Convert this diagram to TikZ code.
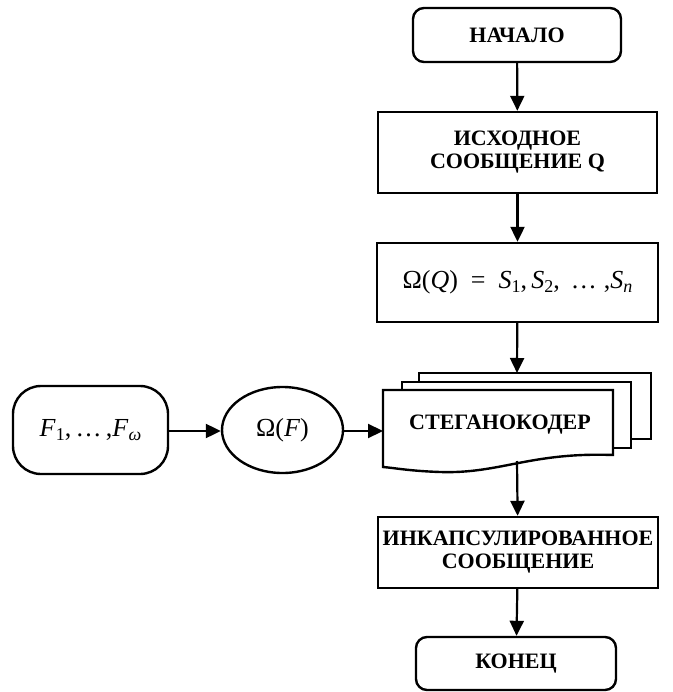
\documentclass[tikz,border=0pt]{standalone}
\usepackage{fontspec}
\setmainfont{Liberation Serif}
\usetikzlibrary{arrows.meta,shapes.geometric}

% subscript for formulas typeset in the text font
\newcommand{\lowidx}[1]{\raisebox{-0.35ex}{\fontsize{18}{18}\selectfont #1}}

\tikzset{
  lbl/.style={font=\fontsize{22}{23}\selectfont\bfseries, align=center},
  mth/.style={font=\fontsize{26}{28}\selectfont},
  procbox/.style={draw, line width=2.4pt, rectangle, inner sep=0pt},
  termbox/.style={draw, line width=2.4pt, rectangle, rounded corners=11pt, inner sep=0pt},
  sheet/.style={draw, line width=2.4pt, fill=white},
  flow/.style={line width=2.2pt, -{Triangle[length=15pt,width=14pt]}}
}

\begin{document}
\begin{tikzpicture}[x=1pt,y=-1pt]
  \useasboundingbox (0,0) rectangle (672,692);

  % main column
  \node[termbox, lbl, minimum width=208pt, minimum height=54pt] (start) at (517,35) {НАЧАЛО};
  \node[procbox, lbl, minimum width=279pt, minimum height=81pt] (src) at (517.5,152.5) {ИСХОДНОЕ\\СООБЩЕНИЕ Q};
  \node[procbox, mth, minimum width=281pt, minimum height=79pt] (omq) at (517.5,282.5)
    {Ω(\textit{Q})\enspace=\enspace\textit{S}\lowidx{1},\,\textit{S}\lowidx{2},\, …\;,\textit{S}\lowidx{\textit{n}}};

  % stacked documents of the steganocoder
  \draw[sheet] (419,373) rectangle (651,439);
  \draw[sheet] (402,382) rectangle (631,448);
  \draw[sheet] (383,390) -- (613,390) -- (613,455)
     .. controls (530,452) and (500,474) .. (440,472)
     .. controls (410,471) and (395,468) .. (383,467) -- cycle;
  \node[lbl] (coder) at (500,425) {СТЕГАНОКОДЕР};
  \coordinate (coderTop) at (517,373);
  \coordinate (coderIn) at (383,431);
  \coordinate (coderOut) at (517,461);

  \node[procbox, lbl, minimum width=280pt, minimum height=71pt] (enc) at (518,552.5) {ИНКАПСУЛИРОВАННОЕ\\СООБЩЕНИЕ};
  \node[termbox, lbl, minimum width=200pt, minimum height=53pt] (end) at (516,663.5) {КОНЕЦ};

  % left branch
  \node[termbox, mth, rounded corners=28pt, minimum width=155pt, minimum height=88pt] (fam) at (90.5,430)
    {\textit{F}\lowidx{1},\,…\,,\textit{F}\lowidx{\textit{ω}}};
  \node[draw, line width=2.4pt, ellipse, mth, inner sep=0pt, minimum width=121pt, minimum height=86pt] (omf) at (282.5,430)
    {Ω(\textit{F})};

  % connectors
  \draw[flow] (start) -- (src);
  \draw[flow] (src) -- (omq);
  \draw[flow] (omq) -- (coderTop);
  \draw[flow] (coderOut) -- (enc);
  \draw[flow] (enc) -- (end);
  \draw[flow] (fam.east |- coderIn) -- (omf.west |- coderIn);
  \draw[flow] (omf.east |- coderIn) -- (coderIn);
\end{tikzpicture}
\end{document}
